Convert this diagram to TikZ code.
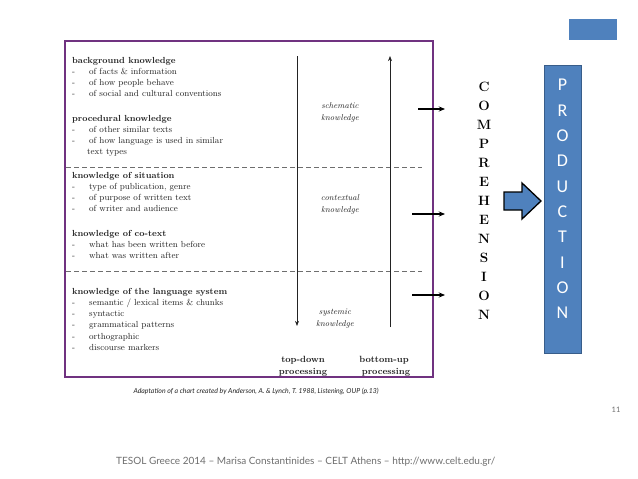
\documentclass[tikz,border=0pt]{standalone}
\usepackage{fontspec}
\usepackage{xcolor}
\usepackage{tikz}
\usetikzlibrary{arrows.meta,calc,positioning}
\newfontfamily\slidefont[Ligatures=TeX]{Lato}
\newfontfamily\prodfont{Carlito}
\definecolor{chpurple}{RGB}{112,50,128}
\definecolor{chblue}{RGB}{79,129,189}
\definecolor{chbluedark}{RGB}{56,93,138}
\definecolor{chink}{RGB}{35,35,35}
\definecolor{chgray}{RGB}{110,110,110}
\tikzset{
  block/.style={anchor=base west,inner sep=0pt,text=chink,font=\fontsize{8.8}{11.3}\selectfont},
  knowlabel/.style={inner sep=0pt,align=center,text=chink,font=\fontsize{8.5}{12}\selectfont\itshape},
  proclabel/.style={inner sep=0pt,align=center,text=chink,font=\fontsize{9}{12}\selectfont\bfseries},
  sepline/.style={draw=chgray,line width=0.6pt,dash pattern=on 5pt off 3pt},
  procline/.style={-{Stealth[length=1.8mm,width=1.4mm]},line width=0.7pt,draw=chink},
  crossarr/.style={-{Stealth[length=2.2mm,width=1.8mm]},line width=1.1pt,draw=black},
  bluebox/.style={draw=chbluedark,fill=chblue,line width=0.8pt,inner sep=0pt},
}

\begin{document}
\begin{tikzpicture}[x=1pt,y=-1pt]
  \useasboundingbox[fill=white] (0,0) rectangle (638,479);

  % chart frame
  \node[draw=chpurple,line width=2pt,minimum width=368pt,minimum height=336pt,inner sep=0pt] (frame) at (249,209) {};

  % left column of knowledge types
  \node[block] (bgk) at (72,63) {\begin{tabular}[t]{@{}p{17pt}@{}l@{}}
    \multicolumn{2}{@{}l}{\bfseries background knowledge}\\
    -&of facts \& information\\
    -&of how people behave\\
    -&of social and cultural conventions
  \end{tabular}};
  \node[block] (prk) at (72,121) {\begin{tabular}[t]{@{}p{17pt}@{}l@{}}
    \multicolumn{2}{@{}l}{\bfseries procedural knowledge}\\
    -&of other similar texts\\
    -&of how language is used in similar\\
    &\hspace{-2pt}text types
  \end{tabular}};
  \node[block] (sit) at (72,178) {\begin{tabular}[t]{@{}p{17pt}@{}l@{}}
    \multicolumn{2}{@{}l}{\bfseries knowledge of situation}\\
    -&type of publication, genre\\
    -&of purpose of written text\\
    -&of writer and audience
  \end{tabular}};
  \node[block] (cot) at (72,236) {\begin{tabular}[t]{@{}p{17pt}@{}l@{}}
    \multicolumn{2}{@{}l}{\bfseries knowledge of co-text}\\
    -&what has been written before\\
    -&what was written after
  \end{tabular}};
  \node[block] (lsy) at (72,294) {\begin{tabular}[t]{@{}p{17pt}@{}l@{}}
    \multicolumn{2}{@{}l}{\bfseries knowledge of the language system}\\
    -&semantic / lexical items \& chunks\\
    -&syntactic\\
    -&grammatical patterns\\
    -&orthographic\\
    -&discourse markers
  \end{tabular}};

  % separators
  \coordinate (sepA) at (66,167);
  \coordinate (sepA') at (422,167);
  \coordinate (sepB) at (66,271);
  \coordinate (sepB') at (422,271);
  \draw[sepline] (sepA) -- (sepA');
  \draw[sepline] (sepB) -- (sepB');

  % knowledge labels
  \node[knowlabel] (schem) at (340,112) {schematic\\knowledge};
  \node[knowlabel] (context) at (340,204.5) {contextual\\knowledge};
  \node[knowlabel] (system) at (335,319) {systemic\\knowledge};

  % processing directions
  \coordinate (tdtop) at (297,56);
  \coordinate (tdbot) at (297,326);
  \coordinate (bubot) at (390,327);
  \coordinate (butop) at (390,56);
  \draw[procline] (tdtop) -- (tdbot);
  \draw[procline] (bubot) -- (butop);
  \node[proclabel] (topdown) at (303,366) {top-down\\processing};
  \node[proclabel] (bottomup) at (384,366) {bottom-up\\\hspace{4pt}processing};

  % comprehension column
  \node[inner sep=0pt,align=center,font=\fontsize{13.5}{19}\selectfont\bfseries] (compr) at (484,201)
    {C\\O\\M\\P\\R\\E\\H\\E\\N\\S\\I\\O\\N};
  \coordinate (inA) at (418,109);
  \coordinate (outA) at (445,109);
  \coordinate (inB) at (412,214);
  \coordinate (outB) at (445,214);
  \coordinate (inC) at (412,295);
  \coordinate (outC) at (445,295);
  \draw[crossarr] (inA) -- (outA);
  \draw[crossarr] (inB) -- (outB);
  \draw[crossarr] (inC) -- (outC);

  % block arrow and production box
  \draw[fill=chblue,draw=black,line width=1.3pt,line join=miter]
    (504,192) -- (522,192) -- (522,183) -- (541,201) -- (522,219) -- (522,210) -- (504,210) -- cycle;
  \node[bluebox,minimum width=37pt,minimum height=288pt] (prod) at (562.5,209) {};
  \node[inner sep=0pt,align=center,text=white,font=\fontsize{18}{25.3}\selectfont\prodfont] (prodtext) at (562.5,199)
    {P\\R\\O\\D\\U\\C\\T\\I\\O\\N};

  % slide furniture
  \node[fill=chblue,inner sep=0pt,minimum width=48pt,minimum height=21pt] (tab) at (593,29.5) {};
  \node[inner sep=0pt,text=chink,font=\fontsize{6.9}{8}\selectfont\slidefont\itshape] (credit) at (256,391)
    {Adaptation of a chart created by Anderson, A. \& Lynch, T. 1988, Listening, OUP (p.13)};
  \node[inner sep=0pt,text=chgray,font=\fontsize{7.5}{9}\selectfont\slidefont] (pageno) at (616,410) {11};
  \node[inner sep=0pt,anchor=west,text=chgray,font=\fontsize{10}{12}\selectfont\slidefont] (footer) at (116,462)
    {TESOL Greece 2014 – Marisa Constantinides – CELT Athens – http://www.celt.edu.gr/};
\end{tikzpicture}
\end{document}
